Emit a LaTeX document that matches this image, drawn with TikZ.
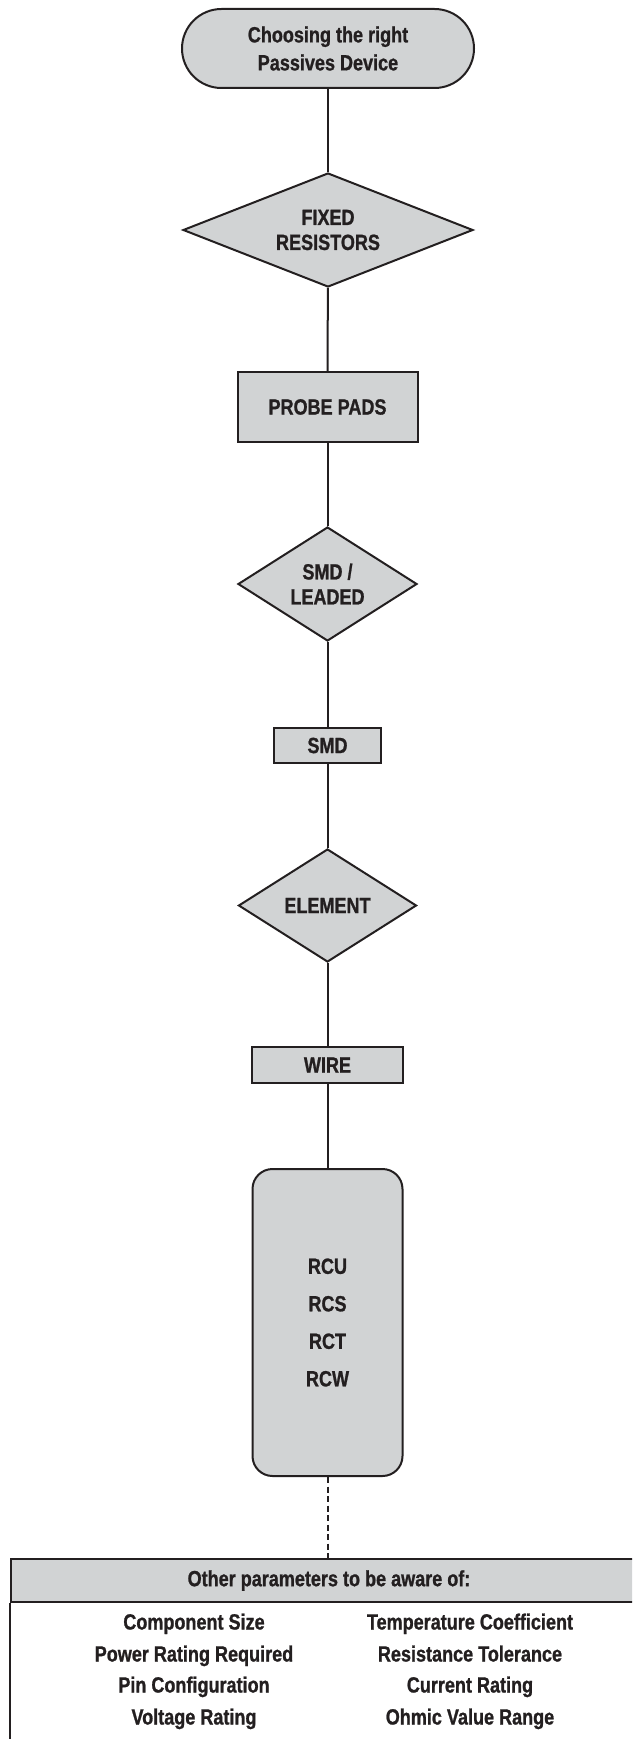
\documentclass[tikz,border=0pt]{standalone}
\usepackage{fontspec}
\setmainfont{Liberation Sans}[FakeStretch=0.82, BoldFeatures={FakeBold=1.0}]
\usetikzlibrary{shapes.geometric}
\definecolor{boxfill}{HTML}{D1D3D4}
\definecolor{ink}{HTML}{231F20}
\begin{document}
\begin{tikzpicture}[x=1pt,y=-1pt,
  every node/.style={font=\bfseries\fontsize{22}{25}\selectfont, text=ink, align=center},
  box/.style={draw=ink, fill=boxfill, line width=2pt, rectangle, inner sep=0pt},
  dia/.style={draw=ink, fill=boxfill, line width=2pt, diamond, inner sep=0pt},
  link/.style={draw=ink, line width=2pt},
  item/.style={anchor=base, inner sep=0pt}]
\clip (0,0) rectangle (632,1739);
\fill[white] (0,0) rectangle (632,1739);
\node[box, rounded corners=39.5pt, minimum width=292pt, minimum height=79pt,
  font=\bfseries\fontsize{22}{28}\selectfont] (start) at (328,48.5) {Choosing the right\\Passives Device};
\node[dia, shape aspect=2.54, minimum width=290pt, minimum height=114pt] (fixed) at (328,230) {FIXED\\RESISTORS};
\node[box, minimum width=180pt, minimum height=70pt] (probe) at (327.5,407) {PROBE PADS};
\node[dia, shape aspect=1.57, minimum width=179pt, minimum height=114pt] (lead) at (327.5,584) {SMD /\\LEADED};
\node[box, minimum width=107pt, minimum height=35pt] (smd) at (327.5,745.5) {SMD};
\node[dia, shape aspect=1.58, minimum width=178pt, minimum height=113pt] (elem) at (327.5,905.5) {ELEMENT};
\node[box, minimum width=151pt, minimum height=36pt] (wire) at (327.5,1065) {WIRE};
\node[box, rounded corners=20pt, minimum width=150pt, minimum height=307pt,
  font=\bfseries\fontsize{22}{37.5}\selectfont] (rc) at (327.5,1322.5) {RCU\\RCS\\RCT\\RCW};
\node[box, anchor=north west, minimum width=636pt, minimum height=43pt] (hdr) at (10,1558) {Other parameters to be aware of:};
\coordinate (bodyend) at (10,1760);
\draw[link] (start) -- (fixed);
\draw[link] (fixed) -- (probe);
\draw[link] (probe) -- (lead);
\draw[link] (lead) -- (smd);
\draw[link] (smd) -- (elem);
\draw[link] (elem) -- (wire);
\draw[link] (wire) -- (rc);
\draw[link, dash pattern=on 6pt off 3.5pt] (rc) -- (hdr.north -| rc);
\draw[link] (hdr.south west) -- (bodyend);
\node[item] (c1) at (194,1629.5) {Component Size};
\node[item] (c2) at (194,1661.5) {Power Rating Required};
\node[item] (c3) at (194,1692.5) {Pin Configuration};
\node[item] (c4) at (194,1724.5) {Voltage Rating};
\node[item] (d1) at (470,1629.5) {Temperature Coefficient};
\node[item] (d2) at (470,1661.5) {Resistance Tolerance};
\node[item] (d3) at (470,1692.5) {Current Rating};
\node[item] (d4) at (470,1724.5) {Ohmic Value Range};
\end{tikzpicture}
\end{document}
